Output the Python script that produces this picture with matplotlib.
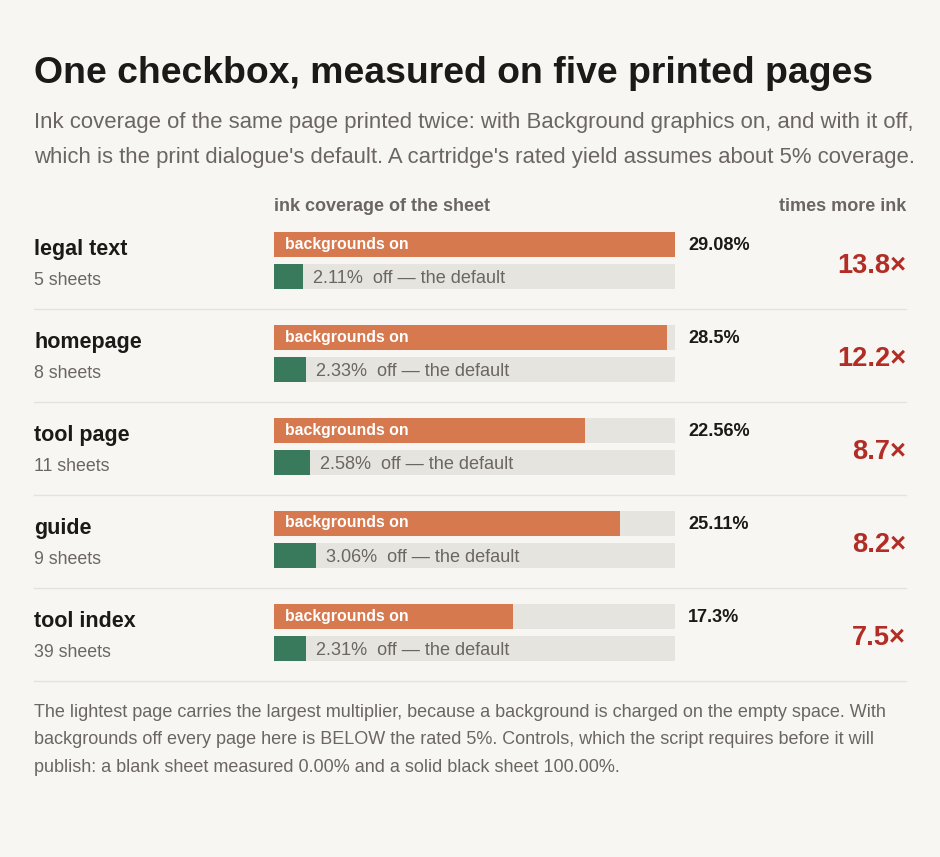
import matplotlib
matplotlib.use("Agg")
import matplotlib.pyplot as plt

plt.rcParams['font.family'] = ['Liberation Sans', 'DejaVu Sans']

# ---- data ----
pages = ["legal text", "homepage", "tool page", "guide", "tool index"]
sheets = [5, 8, 11, 9, 39]
cov_on = [29.08, 28.5, 22.56, 25.11, 17.3]
cov_off = [2.11, 2.33, 2.58, 3.06, 2.31]
multiplier = [13.8, 12.2, 8.7, 8.2, 7.5]

title = "One checkbox, measured on five printed pages"
subtitle = ["Ink coverage of the same page printed twice: with Background graphics on, and with it off,",
            "which is the print dialogue's default. A cartridge's rated yield assumes about 5% coverage."]
footer = ["The lightest page carries the largest multiplier, because a background is charged on the empty space. With",
          "backgrounds off every page here is BELOW the rated 5%. Controls, which the script requires before it will",
          "publish: a blank sheet measured 0.00% and a solid black sheet 100.00%."]

# ---- style ----
W, H = 940, 857
BG = "#f7f6f2"
ORANGE = "#d6794f"
GREEN = "#3a7a5c"
TRACK = "#e6e4df"
RED = "#b22d25"
DARK = "#1b1a18"
GRAY = "#6b6661"
RULE = "#e4e2dd"

fig = plt.figure(figsize=(W / 100, H / 100), dpi=100)
fig.patch.set_facecolor(BG)


def T(x, y, s, **kw):
    fig.text(x / W, 1 - y / H, s, **kw)


def HL(y, x0=34, x1=906):
    fig.add_artist(plt.Line2D([x0 / W, x1 / W], [1 - y / H, 1 - y / H],
                              color=RULE, lw=1.0, transform=fig.transFigure))


T(34, 83, title, fontsize=26.9, fontweight='bold', color=DARK, va='baseline')
for i, line in enumerate(subtitle):
    T(34, 128 + 35 * i, line, fontsize=15.9, color=GRAY, va='baseline')

T(274, 211, "ink coverage of the sheet", fontsize=13.0, fontweight='bold', color=GRAY, va='baseline')
T(906, 211, "times more ink", fontsize=13.0, fontweight='bold', color=GRAY, va='baseline', ha='right')

# bar axes
ROW = 93
BAR_H = 25
GAP = 7
n = len(pages)
ax_top, ax_bot = 232, 232 + ROW * (n - 1) + 2 * BAR_H + GAP
ax_l, ax_r = 274, 675
ax = fig.add_axes([ax_l / W, 1 - ax_bot / H, (ax_r - ax_l) / W, (ax_bot - ax_top) / H])
ax.set_facecolor("none")
scale_max = max(cov_on)
ax.set_xlim(0, scale_max)
ax.set_ylim(ax_bot - ax_top, 0)
ax.axis('off')

for i in range(n):
    y0 = i * ROW
    y1 = y0 + BAR_H + GAP
    ax.barh(y0, scale_max, height=BAR_H, left=0, align='edge', color=TRACK)
    ax.barh(y0, cov_on[i], height=BAR_H, left=0, align='edge', color=ORANGE)
    ax.barh(y1, scale_max, height=BAR_H, left=0, align='edge', color=TRACK)
    ax.barh(y1, cov_off[i], height=BAR_H, left=0, align='edge', color=GREEN)
    ax.annotate("backgrounds on", xy=(0, y0 + BAR_H / 2), xytext=(11, 2),
                textcoords='offset pixels', va='center_baseline', ha='left',
                fontsize=11.4, fontweight='bold', color='white')
    ax.annotate(f"{cov_off[i]:g}%  off \u2014 the default", xy=(cov_off[i], y1 + BAR_H / 2),
                xytext=(10, 0), textcoords='offset pixels', va='center_baseline', ha='left',
                fontsize=13.1, color=GRAY)

    by = 232 + i * ROW
    T(34, by + 23, pages[i], fontsize=15.5, fontweight='bold', color=DARK, va='baseline')
    T(34, by + 53, f"{sheets[i]} sheets", fontsize=12.8, color=GRAY, va='baseline')
    T(688, by + 18, f"{cov_on[i]:g}%", fontsize=13.1, fontweight='bold', color=DARK, va='baseline')
    T(906, by + 41, f"{multiplier[i]:g}\u00d7", fontsize=19.6, fontweight='bold', color=RED,
      va='baseline', ha='right')
    HL(by + 77)

for i, line in enumerate(footer):
    T(34, 717 + 27.5 * i, line, fontsize=13.0, color=GRAY, va='baseline')

fig.savefig("out.png", dpi=100, facecolor=BG)
